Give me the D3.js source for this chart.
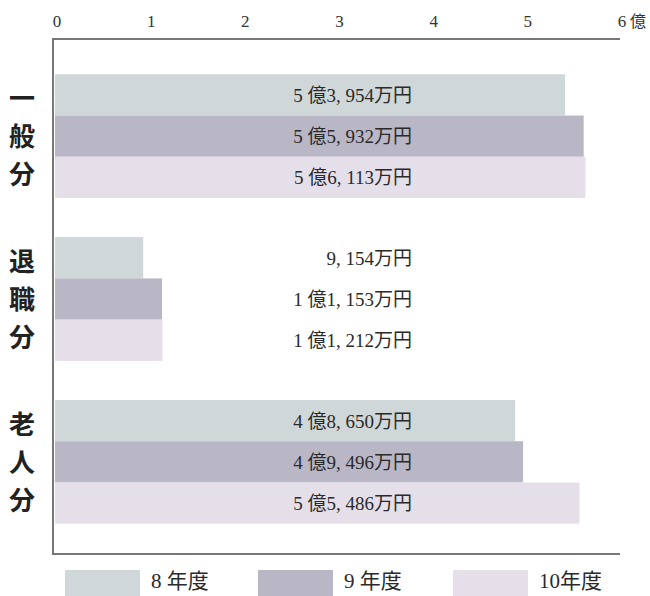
<!DOCTYPE html>
<html><head><meta charset="utf-8">
<script src="https://cdn.jsdelivr.net/npm/d3@7"></script>
<style>body{margin:0;background:#fff}</style>
</head><body>
<svg id="c" width="650" height="596"></svg>
<script>
const categories = ["一般分", "退職分", "老人分"];
const years = ["8 年度", "9 年度", "10年度"];
const values = [ // 億円
  [5.3954, 5.5932, 5.6113],
  [0.9154, 1.1153, 1.1212],
  [4.8650, 4.9496, 5.5486]
];
const valueLabels = [
  ["5 億3, 954万円", "5 億5, 932万円", "5 億6, 113万円"],
  ["9, 154万円", "1 億1, 153万円", "1 億1, 212万円"],
  ["4 億8, 650万円", "4 億9, 496万円", "5 億5, 486万円"]
];
const ticks = [0, 1, 2, 3, 4, 5, 6];
const colors = ["#cfd7d8", "#b9b6c6", "#e5dfea"];

const svg = d3.select("#c");
const font = "'Liberation Serif','Noto Sans CJK JP',serif";
const x = d3.scaleLinear().domain([0, 6]).range([57, 622]);
const y0 = d3.scaleBand().domain(categories).range([58, 540]).paddingInner(0.24).paddingOuter(0.1);
const y1 = d3.scaleBand().domain(years).range([0, y0.bandwidth()]);

// frame
svg.append("path").attr("d", `M620,39 H53 V554 H620`).attr("fill","none").attr("stroke","#777").attr("stroke-width",2);

// ticks
svg.append("g").selectAll("text").data(ticks).join("text")
  .attr("x", d => x(d)).attr("y", 27).attr("text-anchor","middle")
  .attr("font-family", font).attr("font-size", 17).attr("fill","#333")
  .text(d => d);
svg.append("text").attr("x", x(6)+8).attr("y", 27).attr("font-family", font).attr("font-size", 16).attr("fill","#333").text("億");

// bars
categories.forEach((c, ci) => {
  const g = svg.append("g").attr("transform", `translate(0,${y0(c)})`);
  g.selectAll("rect").data(values[ci]).join("rect")
    .attr("x", x(0) - 2).attr("y", (d, i) => y1(years[i]))
    .attr("width", d => x(d) - x(0) + 2).attr("height", y1.bandwidth())
    .attr("fill", (d, i) => colors[i]);
  g.selectAll("text.v").data(valueLabels[ci]).join("text").attr("class","v")
    .attr("x", 412).attr("y", (d, i) => y1(years[i]) + y1.bandwidth()/2 + 7)
    .attr("text-anchor","end").attr("font-family", font).attr("font-size", 19).attr("fill","#2a2a2a")
    .text(d => d);
  // vertical category label
  const chars = c.split("");
  const cy = y0(c) + y0.bandwidth()/2;
  svg.append("g").selectAll("text").data(chars).join("text")
    .attr("x", 22).attr("y", (d, i) => cy + (i - 1) * 38 + 10)
    .attr("text-anchor","middle").attr("font-family","'Noto Sans CJK JP',sans-serif")
    .attr("font-weight","bold").attr("font-size", 26).attr("fill","#222")
    .text(d => d);
});

// legend
const legX = [65, 258, 453];
const lg = svg.append("g");
years.forEach((yr, i) => {
  lg.append("rect").attr("x", legX[i]).attr("y", 570).attr("width", 75).attr("height", 30).attr("fill", colors[i]);
  lg.append("text").attr("x", legX[i] + 86).attr("y", 588)
    .attr("font-family", font).attr("font-size", 21).attr("fill","#2a2a2a").text(yr);
});
</script>
</body></html>
